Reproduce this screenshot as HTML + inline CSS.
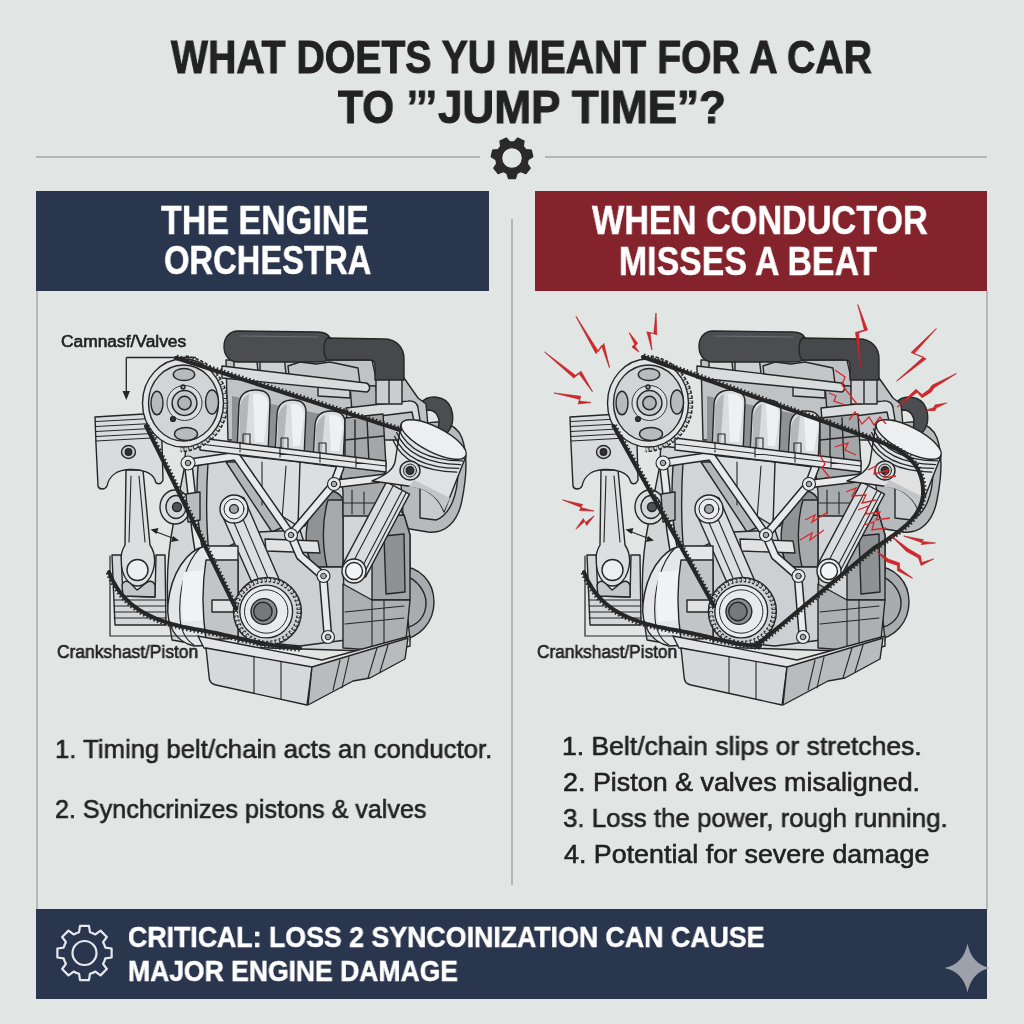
<!DOCTYPE html>
<html><head><meta charset="utf-8"><title>Jump Time</title>
<style>
html,body{margin:0;padding:0;}
body{width:1024px;height:1024px;overflow:hidden;position:relative;background:#e1e5e4;font-family:"Liberation Sans",sans-serif;}
.t{position:absolute;white-space:nowrap;line-height:0;transform-origin:0 0;will-change:transform;}
.b{font-weight:700;}
.m{font-weight:400;-webkit-text-stroke:0.6px currentColor;}
.b{-webkit-text-stroke:0.5px currentColor;}
.tt{-webkit-text-stroke:1px currentColor;}
.box{position:absolute;}
.hl{position:absolute;height:2px;background:#b3b7b6;}
.vl{position:absolute;width:2px;background:#b4b8b8;}
svg{position:absolute;left:0;top:0;overflow:visible;}
</style></head><body>
<div class="hl" style="left:36px;top:155.5px;width:444px"></div>
<div class="hl" style="left:545px;top:155.5px;width:442px"></div>
<div class="box" style="left:36px;top:191px;width:453px;height:100px;background:#2a354e"></div>
<div class="box" style="left:535px;top:191px;width:452px;height:100px;background:#84232b"></div>
<div class="vl" style="left:36px;top:291px;height:618px"></div>
<div class="vl" style="left:985.5px;top:291px;height:618px"></div>
<div class="vl" style="left:511px;top:219px;height:666px"></div>
<div class="box" style="left:36px;top:908.5px;width:951px;height:90px;background:#2a354e"></div>
<svg width="1024" height="1024" viewBox="0 0 1024 1024">
<g transform="translate(0,0)" stroke="#262626" stroke-width="1.4" stroke-linejoin="round" stroke-linecap="round">
<path fill="#b7babc" d="M418,428 C432,418 455,420 462,438 C468,455 466,480 462,500 C458,522 445,534 428,532 L404,528 L400,470 Z"/>
<path fill="#c9ccce" d="M436,432 C450,432 458,445 458,470 C458,495 450,515 436,520 L420,518 L420,440 Z"/>
<path fill="#a9acaf" d="M398,566 C420,566 434,582 434,602 C434,622 420,638 400,640 Z"/>
<path fill="none" d="M404,575 C418,580 426,592 426,603 C426,616 418,626 404,628"/>
<path fill="#4b4d50" d="M421,403 C428,394 446,395 451,408 C455,420 452,428 446,434 L437,430 C441,422 439,412 430,410 C426,410 423,411 421,412 Z"/>
<path fill="#c0c3c5" d="M226,360 L372,360 L376,378 L404,378 L418,398 L426,404 L428,426 L404,440 L228,440 Z"/>
<path fill="#d6d9da" d="M234,352 L256,352 L258,372 L234,372 Z"/>
<path fill="#cdd0d2" d="M260,356 L284,356 L286,374 L260,374 Z"/>
<path fill="#c4c7c9" d="M288,366 L300,362 L316,364 L330,362 L358,368 L360,384 L290,384 Z"/>
<path fill="#d0d3d5" d="M318,380 L350,382 L350,398 L318,396 Z"/>
<path fill="#b3b6b8" d="M350,385 L376,386 L378,410 L352,412 Z"/>
<path fill="#d9dcdd" d="M222,366 L366,383 C370,384 371,390 367,392 L222,378 Z"/>
<path fill="#d9dcdd" d="M346,408 L408,401 C414,400 418,404 418,408 L420,420 L414,421 L412,412 L347,420 Z"/>
<path fill="#cbced0" d="M376,378 L402,378 L402,404 L376,404 Z"/>
<path fill="none" d="M389,379 L389,403"/>
<path fill="#4b4d50" d="M238,331 L318,332 C325,332 329,335 331,339 L331,359 C327,362 321,362 315,362 L238,362 C229,362 224,355 224,346.5 C224,338 229,331 238,331 Z"/>
<path fill="#46484b" d="M327,338 L384,339 C396,339 404,347 404,359 L404,380 L375,380 L375,366 C375,362 373,360 370,360 L327,360 C323,355 323,343 327,338 Z"/>
<path fill="none" stroke="#6a6c70" stroke-width="1.2" d="M240,336 L318,337"/>
<path fill="#8d9194" stroke="none" d="M232,396 L350,420 L350,462 L232,450 Z"/>
<path fill="#dadddf" d="M237,452 L239,404 C240,394 246,390 255.5,390 C265,390 270,394 270,402 L268,454 Z"/>
<path fill="#b4b7b9" stroke="none" d="M240,406 C242,398 246,395 249,394 L245,452 L239,452 Z"/>
<path fill="#eef0f1" stroke="none" d="M253,394 C264,393 268,398 268,406 L264,442 L255,442 Z"/>
<path fill="none" stroke-width="1.1" d="M243,452 L243,434 L250,434 L250,452"/>
<path fill="#dadddf" d="M275,456 L277,414 C278,404 284,400 292.5,400 C301,400 306,404 306,412 L304,458 Z"/>
<path fill="#b4b7b9" stroke="none" d="M278,416 C280,408 284,405 287,404 L283,456 L277,456 Z"/>
<path fill="#eef0f1" stroke="none" d="M291,404 C300,403 304,408 304,416 L300,446 L293,446 Z"/>
<path fill="none" stroke-width="1.1" d="M281,456 L281,438 L288,438 L288,456"/>
<path fill="#dadddf" d="M313,461 L315,425 C316,415 322,411 331.0,411 C340,411 345,415 345,423 L343,463 Z"/>
<path fill="#b4b7b9" stroke="none" d="M316,427 C318,419 322,416 325,415 L321,461 L315,461 Z"/>
<path fill="#eef0f1" stroke="none" d="M329,415 C339,414 343,419 343,427 L339,451 L331,451 Z"/>
<path fill="none" stroke-width="1.1" d="M319,461 L319,443 L326,443 L326,461"/>
<path fill="#a3a7aa" d="M345,418 L383,414 L386,466 L345,461 Z"/>
<path fill="none" d="M355,420 L355,461 M367,418 L369,463 M345,440 L384,436"/>
<path fill="#d3d6d8" d="M186,446 L384,468 L392,500 L404,515 L410,535 L410,570 L406,600 L410,640 L398,652 L206,646 L172,640 C165,600 166,560 174,520 L184,470 Z"/>
<path fill="#d2d5d7" stroke="none" d="M196,458 L226,452 L262,505 L258,530 L246,556 L200,556 C196,520 195,490 196,458 Z"/>
<path fill="#b7babc" d="M198,466 L208,462 C206,495 206,525 209,554 L201,555 C197,525 196,495 198,466 Z"/>
<path fill="#b3b6b8" d="M226,462 L238,462 L283,527 L272,532 Z"/>
<path fill="#dbdee0" d="M236,455 L300,462 L302,472 L298,526 L272,510 Z"/>
<path fill="none" stroke-width="1.1" d="M262,462 L262,505 M286,466 L282,520"/>
<path fill="#dcdfe0" d="M300,462 L338,467 L334,484 C320,495 310,510 305,526 L298,526 Z"/>
<path fill="#8f9396" d="M322,494 C330,488 340,492 343,500 L343,567 L312,567 C303,545 303,515 322,494 Z"/>
<path fill="#a6a9ac" d="M328,500 L343,500 L343,567 L327,567 C322,545 322,520 328,500 Z"/>
<path fill="#a9acaf" d="M340,466 L384,470 L388,500 L372,516 L343,516 L343,492 Z"/>
<path fill="none" stroke-width="1.1" d="M350,478 L380,480 M352,490 L352,514 M364,492 L364,514 M343,503 L385,503"/>
<path fill="#a3a6a9" d="M372,516 L404,515 L410,535 L410,600 L372,600 Z"/>
<path fill="#8e9295" d="M384,536 L404,534 L405,592 L386,594 Z"/>
<path fill="#cdd0d2" d="M209,556 L258,532 L300,530 L312,567 L343,567 L346,640 L300,646 L240,640 L210,600 Z"/>
<path fill="#e0e2e3" d="M265,539 L318,541 L320,553 L266,551 Z"/>
<path fill="#adb0b3" d="M343,584 L372,600 L410,600 L406,640 L398,652 L343,648 Z"/>
<path fill="none" stroke-width="1.1" d="M345,612 L404,606 M345,624 L404,618 M372,600 L372,650 M384,600 L384,650"/>
<path fill="none" stroke="#262626" stroke-width="9" d="M188,463 L236,456 L291,535 L334,484 L384,478 M188,463 C193,500 194,530 200,556 L212,585 M291,535 L300,556 L323,576 L328,637 M334,484 L340,468"/>
<path fill="none" stroke="#e7e9ea" stroke-width="6" d="M188,463 L236,456 L291,535 L334,484 L384,478 M188,463 C193,500 194,530 200,556 L212,585 M291,535 L300,556 L323,576 L328,637 M334,484 L340,468"/>
<path fill="#e3e5e6" d="M200,438 L386,461 L386,472 L200,450 Z"/>
<path fill="none" stroke-width="1.1" d="M200,444 L386,466 M240,442 L240,452 M280,447 L280,457 M320,452 L320,462 M356,457 L356,467"/>
<circle cx="188" cy="463" r="7" fill="#e7e9ea" stroke-width="1.1"/>
<circle cx="188" cy="463" r="2.8" fill="#a6a9ac" stroke-width="1"/>
<circle cx="334" cy="484" r="6.5" fill="#e7e9ea" stroke-width="1.1"/>
<circle cx="334" cy="484" r="2.8" fill="#a6a9ac" stroke-width="1"/>
<circle cx="291" cy="535" r="6.5" fill="#e7e9ea" stroke-width="1.1"/>
<circle cx="291" cy="535" r="2.8" fill="#a6a9ac" stroke-width="1"/>
<circle cx="323.5" cy="576" r="6.5" fill="#e7e9ea" stroke-width="1.1"/>
<circle cx="323.5" cy="576" r="2.8" fill="#a6a9ac" stroke-width="1"/>
<circle cx="328" cy="637" r="6.5" fill="#e7e9ea" stroke-width="1.1"/>
<circle cx="328" cy="637" r="2.8" fill="#a6a9ac" stroke-width="1"/>
<path fill="#dadddf" d="M386.5,481.9 L409.5,494.1 L365.5,577.1 L342.5,564.9 Z"/>
<path fill="none" stroke-width="1.1" d="M393,486 L350,568 M402,491 L359,573 M406,493 L363,575"/>
<circle cx="354" cy="571" r="12" fill="#e9ebec"/>
<circle cx="354" cy="571" r="8.5" fill="#f3f4f5"/>
<path fill="#dcdfe0" d="M222,515 C220,500 232,492 244,498 L282,586 L258,596 Z"/>
<path fill="none" stroke-width="1.1" d="M232,518 L264,592 M240,512 L273,590"/>
<circle cx="234" cy="509" r="14" fill="#e4e6e7"/>
<circle cx="234" cy="509" r="10" fill="#e9ebec" stroke-width="1"/>
<circle cx="234" cy="509" r="4.4" fill="#a0a4a7"/>
<path fill="#e4e6e7" d="M238,546 L206,546 C186,550 171,574 168,604 C166,626 176,642 194,646 L238,644 Z"/>
<path fill="none" stroke-width="1.1" d="M200,548 C186,562 178,590 180,618 C181,632 186,640 194,645"/>
<path fill="#f1f2f3" stroke="none" d="M184,572 L204,570 L204,620 L183,622 C181,605 181,588 184,572 Z"/>
<path fill="#c2c5c7" d="M206,560 L238,560 L238,638 L206,640 C202,612 202,585 206,560 Z"/>
<path fill="#dfe1e2" d="M212,600 L238,600 L238,612 L212,612 Z"/>
<ellipse cx="175" cy="507" rx="15" ry="17" fill="#dcdfe0"/>
<ellipse cx="176" cy="507" rx="10" ry="11.5" fill="#d3d6d8"/>
<circle cx="177" cy="507" r="4.5" fill="#505356"/>
<path fill="#b9bcbe" d="M186,494 L200,492 L200,520 L188,522 Z"/>
<path fill="#e2e4e5" d="M198,636 L322,660 L410,636 L410,646 L322,670 L204,648 Z"/>
<path fill="#d6d9da" d="M206,648 L312,667 L307,705 L216,685 C211,684 209,680 209,676 Z"/>
<path fill="#b9bcbe" d="M312,667 L408,638 L405,659 L370,678 L353,681 L308,705 Z"/>
<path fill="none" stroke-width="1.1" d="M254,657 L254,693 M281,662 L281,699 M340,660 L333,690 M349,657 L342,688 M377,648 L368,678 M388,645 L380,672"/>
<path fill="#dcdfe0" d="M126,470 L143,470 L150,545 C160,560 152,586 137.5,586 C123,586 116,560 125,545 Z"/>
<path fill="none" stroke-width="1.1" d="M131,476 L129,542 M139,476 L145,542"/>
<circle cx="137.5" cy="570" r="10.5" fill="#eceeef"/>
<path fill="#d9dcdd" d="M95,417 L160,413 L162,444 L163,480 C161,485 156,485 155,480 C152,472 141,469 129,469.5 C117,470 109,476 107,486 C105,490 99,490 98,486 L96,444 Z"/>
<path fill="none" stroke-width="1.2" d="M96,421.5 L161,418.0"/>
<path fill="none" stroke-width="1.2" d="M96,426.5 L161,423.0"/>
<path fill="none" stroke-width="1.2" d="M96,431.5 L161,428.0"/>
<path fill="none" stroke-width="1.2" d="M96,436.5 L161,433.0"/>
<path fill="none" stroke-width="1.2" d="M96,441 L161,437.5"/>
<ellipse cx="128.5" cy="452" rx="7" ry="6.5" fill="#c9ccce"/>
<circle cx="128.5" cy="452" r="3.2" fill="#333"/>
<path fill="none" stroke-width="1.2" d="M110,556 L110,636 L198,636"/>
<path fill="#d4d7d9" d="M112,555 L121,555 L123,596 L155,597 L156,555 L165,555 L166,625 L115,625 Z"/>
<path fill="#c4c7c9" d="M122,585 C126,575 134,588 137,590 C142,588 150,575 155,585 L155,597 L123,596 Z"/>
<path fill="none" stroke-width="1.1" d="M114,600 L166,600"/>
<path fill="none" stroke-width="1.1" d="M114,606 L166,606"/>
<path fill="none" stroke-width="1.1" d="M114,612 L166,612"/>
<path fill="none" stroke-width="1.1" d="M114,618 L166,618"/>
<path fill="none" stroke-width="1.2" d="M154,531 L175,539"/>
<path fill="#262626" stroke="none" d="M150.5,529.5 L158.5,528 L156.5,534 Z M179,540.5 L171,542 L173,536 Z"/>
<path fill="#dfe1e2" d="M401,424 L466,456 L444,512 C438,496 424,486 408,486 L372,481 C386,475 393,470 395,462 Z"/>
<path fill="#c3c6c8" stroke="none" d="M444,511 C438,496 424,487 409,487 L414,480 L450,498 Z"/>
<ellipse cx="433.7" cy="439.5" rx="36" ry="12.5" transform="rotate(27 433.7 439.5)" fill="#eceeef"/>
<path fill="none" stroke-width="1.3" d="M398.5,428.9 Q411.5,459.9 462.5,460.9"/>
<path fill="none" stroke-width="1.3" d="M396.6,432.6 Q409.6,463.6 460.6,464.6"/>
<path fill="none" stroke-width="1.3" d="M394.7,436.4 Q407.7,467.4 458.7,468.4"/>
<path fill="none" stroke-width="1.3" d="M392.9,440.1 Q405.9,471.1 456.9,472.1"/>
<ellipse cx="410" cy="470.5" rx="10" ry="9.5" fill="#d8dbdc"/>
<circle cx="410" cy="470.5" r="6.5" fill="#c9ccce" stroke-width="1"/>
<circle cx="410" cy="470.5" r="3.8" fill="#333"/>
</g>
<g stroke="#262626" stroke-width="1.4">
<path d="M182.7,355.2 A49,49 0 0 1 178.5,452.3 L183,443 L183,363 Z" fill="#c9ccce" stroke="none"/>
<path d="M185.4,358.5 A45.5,45.5 0 0 1 180.7,449.1" fill="none" stroke="#2e2e2e" stroke-width="6.5" stroke-dasharray="3.2 1.6"/>
<path d="M185.4,358.5 A45.5,45.5 0 0 1 180.7,449.1" fill="none" stroke="#d8dbdc" stroke-width="3.2" stroke-dasharray="2.2 2.6"/>
<ellipse cx="183" cy="403" rx="40.5" ry="44" fill="#e1e3e4"/>
<ellipse cx="183.5" cy="403" rx="35" ry="38" fill="#d2d5d7"/>
<ellipse cx="184" cy="374.5" rx="10.7" ry="6" fill="#b8bbbd"/>
<ellipse cx="186" cy="434" rx="11.5" ry="6.5" fill="#b8bbbd"/>
<ellipse cx="157" cy="403" rx="6" ry="11.8" fill="#b8bbbd"/>
<ellipse cx="212" cy="402" rx="6.5" ry="12" fill="#b8bbbd"/>
<circle cx="184.5" cy="403" r="17.5" fill="#dadddf" stroke-width="0.9"/>
<circle cx="184.5" cy="403" r="12.4" fill="#c7cacc" stroke-width="1.5"/>
<circle cx="184.5" cy="403" r="6.7" fill="#b3b6b8" stroke-width="1.5"/>
<circle cx="183" cy="387" r="2" fill="#999"/>
<circle cx="173" cy="419" r="2.4" fill="#333"/>
</g>
<g stroke="#262626" stroke-width="1.4">
<circle cx="267.4" cy="611.5" r="34" fill="#cfd2d4"/>
<circle cx="267.4" cy="611.5" r="31.5" fill="none" stroke="#2e2e2e" stroke-width="4.6" stroke-dasharray="2.4 2"/>
<circle cx="267.4" cy="611.5" r="31.5" fill="none" stroke="#e0e2e3" stroke-width="2" stroke-dasharray="1.4 3"/>
<circle cx="266.2" cy="611.5" r="26.4" fill="#e8eaeb"/>
<circle cx="266.2" cy="611.5" r="21.7" fill="none" stroke-width="1"/>
<circle cx="263.9" cy="611.5" r="12.9" fill="#8a8d90"/>
<circle cx="262.9" cy="611.5" r="9.2" fill="#76797c"/>
</g><g transform="translate(0,0)"><path fill="none" stroke="#262626" stroke-width="4.0" stroke-linejoin="round" stroke-linecap="round" d="M176.0,358.0 L187.2,361.6 L198.4,365.2 L209.6,368.8 L220.8,372.4 L232.0,376.0 L243.2,379.6 L254.4,383.2 L265.6,386.8 L276.8,390.4 L288.0,394.0 L299.2,397.6 L310.4,401.2 L321.6,404.8 L332.8,408.4 L344.0,412.0 L355.2,415.6 L366.4,419.2 L377.6,422.8 L388.8,426.4 L400.0,430.0"/>
<path fill="none" stroke="#2a2a2a" stroke-width="2.2" stroke-dasharray="1.6 2.2" d="M176.8,355.6 L188.0,359.2 L199.2,362.8 L210.4,366.4 L221.6,370.0 L232.8,373.6 L244.0,377.2 L255.2,380.8 L266.4,384.4 L277.6,388.0 L288.8,391.6 L300.0,395.2 L311.2,398.8 L322.4,402.4 L333.6,406.0 L344.8,409.6 L356.0,413.2 L367.2,416.8 L378.4,420.4 L389.6,424.0 L400.8,427.6"/>
<path fill="none" stroke="#262626" stroke-width="4.0" stroke-linejoin="round" stroke-linecap="round" d="M146.0,426.0 L150.5,435.1 L155.0,444.3 L159.5,453.4 L164.0,462.6 L168.5,471.8 L173.0,480.9 L177.5,490.1 L182.0,499.2 L186.5,508.4 L191.0,517.5 L195.5,526.6 L200.0,535.8 L204.5,545.0 L209.0,554.1 L213.5,563.2 L218.0,572.4 L222.5,581.5 L227.0,590.7 L231.5,599.9 L236.0,609.0"/>
<path fill="none" stroke="#2a2a2a" stroke-width="2.2" stroke-dasharray="1.6 2.2" d="M148.2,424.9 L152.7,434.0 L157.2,443.2 L161.7,452.3 L166.2,461.5 L170.7,470.6 L175.2,479.8 L179.7,488.9 L184.2,498.1 L188.7,507.2 L193.2,516.4 L197.7,525.5 L202.2,534.7 L206.7,543.8 L211.2,553.0 L215.7,562.1 L220.2,571.3 L224.7,580.4 L229.2,589.6 L233.7,598.7 L238.2,607.9"/>
<path fill="none" stroke="#262626" stroke-width="4.0" stroke-linejoin="round" stroke-linecap="round" d="M109.0,572.0 L110.7,576.2 L112.6,580.1 L114.6,583.9 L116.8,587.5 L119.1,591.0 L121.7,594.3 L124.4,597.4 L127.3,600.4 L130.3,603.2 L133.6,605.8 L137.0,608.4 L140.6,610.8 L144.4,613.0 L148.5,615.1 L152.7,617.1 L157.1,619.0 L161.7,620.7 L166.5,622.3 L171.6,623.9 L176.8,625.3 L182.3,626.6 L188.0,627.8 L193.9,629.0 L200.0,630.0 L204.3,630.8 L208.6,631.6 L212.8,632.4 L216.9,633.3 L221.0,634.2 L225.0,635.1 L229.1,636.0 L233.0,636.9 L237.0,637.8 L241.0,638.7 L244.9,639.6 L248.9,640.5 L252.9,641.4 L256.9,642.2 L260.9,643.0 L265.0,643.8 L269.1,644.5 L273.3,645.2 L277.5,645.8 L281.8,646.4 L286.2,646.9 L290.7,647.3 L295.3,647.7 L300.0,648.0"/>
<path fill="none" stroke="#2a2a2a" stroke-width="2.2" stroke-dasharray="1.6 2.2" d="M106.7,572.9 L108.4,577.2 L110.3,581.2 L112.4,585.2 L114.7,588.9 L117.1,592.5 L119.7,595.9 L122.5,599.1 L125.5,602.2 L128.7,605.1 L132.0,607.8 L135.6,610.4 L139.3,612.9 L143.2,615.2 L147.3,617.3 L151.6,619.4 L156.1,621.3 L160.8,623.1 L165.8,624.7 L170.9,626.3 L176.2,627.7 L181.7,629.0 L187.5,630.3 L193.4,631.4 L199.6,632.5 L203.9,633.2 L208.1,634.0 L212.3,634.9 L216.4,635.7 L220.5,636.6 L224.5,637.5 L228.5,638.4 L232.5,639.3 L236.4,640.2 L240.4,641.2 L244.4,642.1 L248.3,642.9 L252.3,643.8 L256.4,644.7 L260.4,645.5 L264.5,646.2 L268.7,647.0 L272.9,647.7 L277.2,648.3 L281.5,648.9 L286.0,649.4 L290.5,649.8 L295.1,650.2 L299.8,650.5"/></g><g transform="translate(0,0)" fill="none" stroke="#262626" stroke-width="1.3">
<path d="M126.3,357.5 L196,357.5 M126.3,357.5 L126.3,393"/>
<path fill="#262626" stroke="none" d="M122.5,391 L130,391 L126.3,400 Z"/>
</g>
<g transform="translate(475,0)" stroke="#262626" stroke-width="1.4" stroke-linejoin="round" stroke-linecap="round">
<path fill="#b7babc" d="M418,428 C432,418 455,420 462,438 C468,455 466,480 462,500 C458,522 445,534 428,532 L404,528 L400,470 Z"/>
<path fill="#c9ccce" d="M436,432 C450,432 458,445 458,470 C458,495 450,515 436,520 L420,518 L420,440 Z"/>
<path fill="#a9acaf" d="M398,566 C420,566 434,582 434,602 C434,622 420,638 400,640 Z"/>
<path fill="none" d="M404,575 C418,580 426,592 426,603 C426,616 418,626 404,628"/>
<path fill="#4b4d50" d="M421,403 C428,394 446,395 451,408 C455,420 452,428 446,434 L437,430 C441,422 439,412 430,410 C426,410 423,411 421,412 Z"/>
<path fill="#c0c3c5" d="M226,360 L372,360 L376,378 L404,378 L418,398 L426,404 L428,426 L404,440 L228,440 Z"/>
<path fill="#d6d9da" d="M234,352 L256,352 L258,372 L234,372 Z"/>
<path fill="#cdd0d2" d="M260,356 L284,356 L286,374 L260,374 Z"/>
<path fill="#c4c7c9" d="M288,366 L300,362 L316,364 L330,362 L358,368 L360,384 L290,384 Z"/>
<path fill="#d0d3d5" d="M318,380 L350,382 L350,398 L318,396 Z"/>
<path fill="#b3b6b8" d="M350,385 L376,386 L378,410 L352,412 Z"/>
<path fill="#d9dcdd" d="M222,366 L366,383 C370,384 371,390 367,392 L222,378 Z"/>
<path fill="#d9dcdd" d="M346,408 L408,401 C414,400 418,404 418,408 L420,420 L414,421 L412,412 L347,420 Z"/>
<path fill="#cbced0" d="M376,378 L402,378 L402,404 L376,404 Z"/>
<path fill="none" d="M389,379 L389,403"/>
<path fill="#4b4d50" d="M238,331 L318,332 C325,332 329,335 331,339 L331,359 C327,362 321,362 315,362 L238,362 C229,362 224,355 224,346.5 C224,338 229,331 238,331 Z"/>
<path fill="#46484b" d="M327,338 L384,339 C396,339 404,347 404,359 L404,380 L375,380 L375,366 C375,362 373,360 370,360 L327,360 C323,355 323,343 327,338 Z"/>
<path fill="none" stroke="#6a6c70" stroke-width="1.2" d="M240,336 L318,337"/>
<path fill="#8d9194" stroke="none" d="M232,396 L350,420 L350,462 L232,450 Z"/>
<path fill="#dadddf" d="M237,452 L239,404 C240,394 246,390 255.5,390 C265,390 270,394 270,402 L268,454 Z"/>
<path fill="#b4b7b9" stroke="none" d="M240,406 C242,398 246,395 249,394 L245,452 L239,452 Z"/>
<path fill="#eef0f1" stroke="none" d="M253,394 C264,393 268,398 268,406 L264,442 L255,442 Z"/>
<path fill="none" stroke-width="1.1" d="M243,452 L243,434 L250,434 L250,452"/>
<path fill="#dadddf" d="M275,456 L277,414 C278,404 284,400 292.5,400 C301,400 306,404 306,412 L304,458 Z"/>
<path fill="#b4b7b9" stroke="none" d="M278,416 C280,408 284,405 287,404 L283,456 L277,456 Z"/>
<path fill="#eef0f1" stroke="none" d="M291,404 C300,403 304,408 304,416 L300,446 L293,446 Z"/>
<path fill="none" stroke-width="1.1" d="M281,456 L281,438 L288,438 L288,456"/>
<path fill="#dadddf" d="M313,461 L315,425 C316,415 322,411 331.0,411 C340,411 345,415 345,423 L343,463 Z"/>
<path fill="#b4b7b9" stroke="none" d="M316,427 C318,419 322,416 325,415 L321,461 L315,461 Z"/>
<path fill="#eef0f1" stroke="none" d="M329,415 C339,414 343,419 343,427 L339,451 L331,451 Z"/>
<path fill="none" stroke-width="1.1" d="M319,461 L319,443 L326,443 L326,461"/>
<path fill="#a3a7aa" d="M345,418 L383,414 L386,466 L345,461 Z"/>
<path fill="none" d="M355,420 L355,461 M367,418 L369,463 M345,440 L384,436"/>
<path fill="#d3d6d8" d="M186,446 L384,468 L392,500 L404,515 L410,535 L410,570 L406,600 L410,640 L398,652 L206,646 L172,640 C165,600 166,560 174,520 L184,470 Z"/>
<path fill="#d2d5d7" stroke="none" d="M196,458 L226,452 L262,505 L258,530 L246,556 L200,556 C196,520 195,490 196,458 Z"/>
<path fill="#b7babc" d="M198,466 L208,462 C206,495 206,525 209,554 L201,555 C197,525 196,495 198,466 Z"/>
<path fill="#b3b6b8" d="M226,462 L238,462 L283,527 L272,532 Z"/>
<path fill="#dbdee0" d="M236,455 L300,462 L302,472 L298,526 L272,510 Z"/>
<path fill="none" stroke-width="1.1" d="M262,462 L262,505 M286,466 L282,520"/>
<path fill="#dcdfe0" d="M300,462 L338,467 L334,484 C320,495 310,510 305,526 L298,526 Z"/>
<path fill="#8f9396" d="M322,494 C330,488 340,492 343,500 L343,567 L312,567 C303,545 303,515 322,494 Z"/>
<path fill="#a6a9ac" d="M328,500 L343,500 L343,567 L327,567 C322,545 322,520 328,500 Z"/>
<path fill="#a9acaf" d="M340,466 L384,470 L388,500 L372,516 L343,516 L343,492 Z"/>
<path fill="none" stroke-width="1.1" d="M350,478 L380,480 M352,490 L352,514 M364,492 L364,514 M343,503 L385,503"/>
<path fill="#a3a6a9" d="M372,516 L404,515 L410,535 L410,600 L372,600 Z"/>
<path fill="#8e9295" d="M384,536 L404,534 L405,592 L386,594 Z"/>
<path fill="#cdd0d2" d="M209,556 L258,532 L300,530 L312,567 L343,567 L346,640 L300,646 L240,640 L210,600 Z"/>
<path fill="#e0e2e3" d="M265,539 L318,541 L320,553 L266,551 Z"/>
<path fill="#adb0b3" d="M343,584 L372,600 L410,600 L406,640 L398,652 L343,648 Z"/>
<path fill="none" stroke-width="1.1" d="M345,612 L404,606 M345,624 L404,618 M372,600 L372,650 M384,600 L384,650"/>
<path fill="none" stroke="#262626" stroke-width="9" d="M188,463 L236,456 L291,535 L334,484 L384,478 M188,463 C193,500 194,530 200,556 L212,585 M291,535 L300,556 L323,576 L328,637 M334,484 L340,468"/>
<path fill="none" stroke="#e7e9ea" stroke-width="6" d="M188,463 L236,456 L291,535 L334,484 L384,478 M188,463 C193,500 194,530 200,556 L212,585 M291,535 L300,556 L323,576 L328,637 M334,484 L340,468"/>
<path fill="#e3e5e6" d="M200,438 L386,461 L386,472 L200,450 Z"/>
<path fill="none" stroke-width="1.1" d="M200,444 L386,466 M240,442 L240,452 M280,447 L280,457 M320,452 L320,462 M356,457 L356,467"/>
<circle cx="188" cy="463" r="7" fill="#e7e9ea" stroke-width="1.1"/>
<circle cx="188" cy="463" r="2.8" fill="#a6a9ac" stroke-width="1"/>
<circle cx="334" cy="484" r="6.5" fill="#e7e9ea" stroke-width="1.1"/>
<circle cx="334" cy="484" r="2.8" fill="#a6a9ac" stroke-width="1"/>
<circle cx="291" cy="535" r="6.5" fill="#e7e9ea" stroke-width="1.1"/>
<circle cx="291" cy="535" r="2.8" fill="#a6a9ac" stroke-width="1"/>
<circle cx="323.5" cy="576" r="6.5" fill="#e7e9ea" stroke-width="1.1"/>
<circle cx="323.5" cy="576" r="2.8" fill="#a6a9ac" stroke-width="1"/>
<circle cx="328" cy="637" r="6.5" fill="#e7e9ea" stroke-width="1.1"/>
<circle cx="328" cy="637" r="2.8" fill="#a6a9ac" stroke-width="1"/>
<path fill="#dadddf" d="M386.5,481.9 L409.5,494.1 L365.5,577.1 L342.5,564.9 Z"/>
<path fill="none" stroke-width="1.1" d="M393,486 L350,568 M402,491 L359,573 M406,493 L363,575"/>
<circle cx="354" cy="571" r="12" fill="#e9ebec"/>
<circle cx="354" cy="571" r="8.5" fill="#f3f4f5"/>
<path fill="#dcdfe0" d="M222,515 C220,500 232,492 244,498 L282,586 L258,596 Z"/>
<path fill="none" stroke-width="1.1" d="M232,518 L264,592 M240,512 L273,590"/>
<circle cx="234" cy="509" r="14" fill="#e4e6e7"/>
<circle cx="234" cy="509" r="10" fill="#e9ebec" stroke-width="1"/>
<circle cx="234" cy="509" r="4.4" fill="#a0a4a7"/>
<path fill="#e4e6e7" d="M238,546 L206,546 C186,550 171,574 168,604 C166,626 176,642 194,646 L238,644 Z"/>
<path fill="none" stroke-width="1.1" d="M200,548 C186,562 178,590 180,618 C181,632 186,640 194,645"/>
<path fill="#f1f2f3" stroke="none" d="M184,572 L204,570 L204,620 L183,622 C181,605 181,588 184,572 Z"/>
<path fill="#c2c5c7" d="M206,560 L238,560 L238,638 L206,640 C202,612 202,585 206,560 Z"/>
<path fill="#dfe1e2" d="M212,600 L238,600 L238,612 L212,612 Z"/>
<ellipse cx="175" cy="507" rx="15" ry="17" fill="#dcdfe0"/>
<ellipse cx="176" cy="507" rx="10" ry="11.5" fill="#d3d6d8"/>
<circle cx="177" cy="507" r="4.5" fill="#505356"/>
<path fill="#b9bcbe" d="M186,494 L200,492 L200,520 L188,522 Z"/>
<path fill="#e2e4e5" d="M198,636 L322,660 L410,636 L410,646 L322,670 L204,648 Z"/>
<path fill="#d6d9da" d="M206,648 L312,667 L307,705 L216,685 C211,684 209,680 209,676 Z"/>
<path fill="#b9bcbe" d="M312,667 L408,638 L405,659 L370,678 L353,681 L308,705 Z"/>
<path fill="none" stroke-width="1.1" d="M254,657 L254,693 M281,662 L281,699 M340,660 L333,690 M349,657 L342,688 M377,648 L368,678 M388,645 L380,672"/>
<path fill="#dcdfe0" d="M126,470 L143,470 L150,545 C160,560 152,586 137.5,586 C123,586 116,560 125,545 Z"/>
<path fill="none" stroke-width="1.1" d="M131,476 L129,542 M139,476 L145,542"/>
<circle cx="137.5" cy="570" r="10.5" fill="#eceeef"/>
<path fill="#d9dcdd" d="M95,417 L160,413 L162,444 L163,480 C161,485 156,485 155,480 C152,472 141,469 129,469.5 C117,470 109,476 107,486 C105,490 99,490 98,486 L96,444 Z"/>
<path fill="none" stroke-width="1.2" d="M96,421.5 L161,418.0"/>
<path fill="none" stroke-width="1.2" d="M96,426.5 L161,423.0"/>
<path fill="none" stroke-width="1.2" d="M96,431.5 L161,428.0"/>
<path fill="none" stroke-width="1.2" d="M96,436.5 L161,433.0"/>
<path fill="none" stroke-width="1.2" d="M96,441 L161,437.5"/>
<ellipse cx="128.5" cy="452" rx="7" ry="6.5" fill="#c9ccce"/>
<circle cx="128.5" cy="452" r="3.2" fill="#333"/>
<path fill="none" stroke-width="1.2" d="M110,556 L110,636 L198,636"/>
<path fill="#d4d7d9" d="M112,555 L121,555 L123,596 L155,597 L156,555 L165,555 L166,625 L115,625 Z"/>
<path fill="#c4c7c9" d="M122,585 C126,575 134,588 137,590 C142,588 150,575 155,585 L155,597 L123,596 Z"/>
<path fill="none" stroke-width="1.1" d="M114,600 L166,600"/>
<path fill="none" stroke-width="1.1" d="M114,606 L166,606"/>
<path fill="none" stroke-width="1.1" d="M114,612 L166,612"/>
<path fill="none" stroke-width="1.1" d="M114,618 L166,618"/>
<path fill="none" stroke-width="1.2" d="M154,531 L175,539"/>
<path fill="#262626" stroke="none" d="M150.5,529.5 L158.5,528 L156.5,534 Z M179,540.5 L171,542 L173,536 Z"/>
<path fill="#dfe1e2" d="M401,424 L466,456 L444,512 C438,496 424,486 408,486 L372,481 C386,475 393,470 395,462 Z"/>
<path fill="#c3c6c8" stroke="none" d="M444,511 C438,496 424,487 409,487 L414,480 L450,498 Z"/>
<ellipse cx="433.7" cy="439.5" rx="36" ry="12.5" transform="rotate(27 433.7 439.5)" fill="#eceeef"/>
<path fill="none" stroke-width="1.3" d="M398.5,428.9 Q411.5,459.9 462.5,460.9"/>
<path fill="none" stroke-width="1.3" d="M396.6,432.6 Q409.6,463.6 460.6,464.6"/>
<path fill="none" stroke-width="1.3" d="M394.7,436.4 Q407.7,467.4 458.7,468.4"/>
<path fill="none" stroke-width="1.3" d="M392.9,440.1 Q405.9,471.1 456.9,472.1"/>
<ellipse cx="410" cy="470.5" rx="10" ry="9.5" fill="#d8dbdc"/>
<circle cx="410" cy="470.5" r="6.5" fill="#c9ccce" stroke-width="1"/>
<circle cx="410" cy="470.5" r="3.8" fill="#333"/>
</g>
<g stroke="#262626" stroke-width="1.4">
<path d="M647.7,355.2 A49,49 0 0 1 643.5,452.3 L648,443 L648,363 Z" fill="#c9ccce" stroke="none"/>
<path d="M650.4,358.5 A45.5,45.5 0 0 1 645.7,449.1" fill="none" stroke="#2e2e2e" stroke-width="6.5" stroke-dasharray="3.2 1.6"/>
<path d="M650.4,358.5 A45.5,45.5 0 0 1 645.7,449.1" fill="none" stroke="#d8dbdc" stroke-width="3.2" stroke-dasharray="2.2 2.6"/>
<ellipse cx="648" cy="403" rx="40.5" ry="44" fill="#e1e3e4"/>
<ellipse cx="648.5" cy="403" rx="35" ry="38" fill="#d2d5d7"/>
<ellipse cx="649" cy="374.5" rx="10.7" ry="6" fill="#b8bbbd"/>
<ellipse cx="651" cy="434" rx="11.5" ry="6.5" fill="#b8bbbd"/>
<ellipse cx="622" cy="403" rx="6" ry="11.8" fill="#b8bbbd"/>
<ellipse cx="677" cy="402" rx="6.5" ry="12" fill="#b8bbbd"/>
<circle cx="649.5" cy="403" r="17.5" fill="#dadddf" stroke-width="0.9"/>
<circle cx="649.5" cy="403" r="12.4" fill="#c7cacc" stroke-width="1.5"/>
<circle cx="649.5" cy="403" r="6.7" fill="#b3b6b8" stroke-width="1.5"/>
<circle cx="648" cy="387" r="2" fill="#999"/>
<circle cx="638" cy="419" r="2.4" fill="#333"/>
</g>
<g stroke="#262626" stroke-width="1.4">
<circle cx="742.4" cy="611.5" r="34" fill="#cfd2d4"/>
<circle cx="742.4" cy="611.5" r="31.5" fill="none" stroke="#2e2e2e" stroke-width="4.6" stroke-dasharray="2.4 2"/>
<circle cx="742.4" cy="611.5" r="31.5" fill="none" stroke="#e0e2e3" stroke-width="2" stroke-dasharray="1.4 3"/>
<circle cx="741.1999999999999" cy="611.5" r="26.4" fill="#e8eaeb"/>
<circle cx="741.1999999999999" cy="611.5" r="21.7" fill="none" stroke-width="1"/>
<circle cx="738.9" cy="611.5" r="12.9" fill="#8a8d90"/>
<circle cx="737.9" cy="611.5" r="9.2" fill="#76797c"/>
</g><g transform="translate(475,0)"><path fill="none" stroke="#262626" stroke-width="4.0" stroke-linejoin="round" stroke-linecap="round" d="M168.0,357.0 L179.6,361.1 L191.2,365.3 L202.8,369.4 L214.4,373.6 L226.0,377.8 L237.6,381.9 L249.2,386.1 L260.8,390.2 L272.4,394.4 L284.0,398.5 L295.6,402.6 L307.2,406.8 L318.8,410.9 L330.4,415.1 L342.0,419.2 L353.6,423.4 L365.2,427.6 L376.8,431.7 L388.4,435.9 L400.0,440.0 L403.5,441.3 L406.8,442.5 L410.1,443.9 L413.2,445.2 L416.2,446.6 L419.2,448.1 L422.0,449.6 L424.7,451.2 L427.2,452.8 L429.7,454.6 L432.0,456.4 L434.1,458.2 L436.1,460.2 L438.0,462.3 L439.8,464.5 L441.3,466.8 L442.8,469.2 L444.0,471.8 L445.1,474.5 L446.0,477.3 L446.8,480.2 L447.4,483.3 L447.8,486.6 L448.0,490.0 L448.0,493.1 L447.8,496.0 L447.4,498.9 L446.7,501.7 L445.9,504.4 L444.8,507.1 L443.6,509.6 L442.2,512.1 L440.6,514.6 L438.8,517.0 L436.9,519.3 L434.8,521.6 L432.5,523.9 L430.1,526.1 L427.5,528.3 L424.8,530.5 L422.0,532.7 L419.0,534.9 L416.0,537.0 L412.8,539.2 L409.5,541.4 L406.1,543.6 L402.6,545.8 L399.0,548.0 L390.6,554.9 L382.3,561.9 L373.9,568.8 L365.6,575.7 L357.2,582.6 L348.9,589.6 L340.5,596.5 L332.1,603.4 L323.8,610.4 L315.4,617.3 L307.1,624.2 L298.7,631.1 L290.4,638.1 L282.0,645.0"/>
<path fill="none" stroke="#2a2a2a" stroke-width="2.2" stroke-dasharray="1.6 2.2" d="M168.8,354.6 L180.4,358.8 L192.0,362.9 L203.6,367.1 L215.2,371.2 L226.8,375.4 L238.4,379.5 L250.0,383.7 L261.6,387.8 L273.2,392.0 L284.8,396.1 L296.4,400.3 L308.0,404.4 L319.6,408.6 L331.2,412.7 L342.8,416.9 L354.4,421.0 L366.0,425.2 L377.6,429.3 L389.2,433.5 L400.8,437.6 L404.3,438.9 L407.7,440.2 L411.0,441.6 L414.2,442.9 L417.3,444.4 L420.3,445.9 L423.2,447.4 L426.0,449.1 L428.6,450.8 L431.2,452.5 L433.6,454.4 L435.8,456.4 L438.0,458.5 L439.9,460.7 L441.8,463.0 L443.4,465.5 L445.0,468.0 L446.3,470.8 L447.5,473.6 L448.4,476.6 L449.2,479.7 L449.9,482.9 L450.3,486.4 L450.5,489.9 L450.5,493.2 L450.3,496.3 L449.8,499.4 L449.1,502.4 L448.2,505.3 L447.1,508.1 L445.8,510.8 L444.3,513.5 L442.6,516.0 L440.8,518.5 L438.7,521.0 L436.6,523.4 L434.2,525.7 L431.7,528.0 L429.1,530.2 L426.4,532.5 L423.5,534.7 L420.5,536.9 L417.4,539.1 L414.2,541.3 L410.8,543.5 L407.4,545.7 L403.9,547.9 L400.5,550.0 L392.2,556.9 L383.9,563.8 L375.5,570.7 L367.2,577.6 L358.8,584.6 L350.5,591.5 L342.1,598.4 L333.7,605.4 L325.4,612.3 L317.0,619.2 L308.7,626.1 L300.3,633.1 L292.0,640.0 L283.6,646.9"/>
<path fill="none" stroke="#262626" stroke-width="4.0" stroke-linejoin="round" stroke-linecap="round" d="M138.5,426.0 L143.5,435.0 L148.6,444.0 L153.6,453.0 L158.6,462.0 L163.6,471.0 L168.7,480.0 L173.7,489.0 L178.7,498.0 L183.7,507.0 L188.8,516.0 L193.8,525.0 L198.8,534.0 L203.8,543.0 L208.8,552.0 L213.9,561.0 L218.9,570.0 L223.9,579.0 L228.9,588.0 L234.0,597.0 L239.0,606.0"/>
<path fill="none" stroke="#2a2a2a" stroke-width="2.2" stroke-dasharray="1.6 2.2" d="M140.7,424.8 L145.7,433.8 L150.7,442.8 L155.8,451.8 L160.8,460.8 L165.8,469.8 L170.8,478.8 L175.9,487.8 L180.9,496.8 L185.9,505.8 L190.9,514.8 L196.0,523.8 L201.0,532.8 L206.0,541.8 L211.0,550.8 L216.1,559.8 L221.1,568.8 L226.1,577.8 L231.1,586.8 L236.2,595.8 L241.2,604.8"/>
<path fill="none" stroke="#262626" stroke-width="4.0" stroke-linejoin="round" stroke-linecap="round" d="M109.0,572.0 L110.7,576.2 L112.6,580.1 L114.6,583.9 L116.8,587.5 L119.1,591.0 L121.7,594.3 L124.4,597.4 L127.3,600.4 L130.3,603.2 L133.6,605.8 L137.0,608.4 L140.6,610.8 L144.4,613.0 L148.5,615.1 L152.7,617.1 L157.1,619.0 L161.7,620.7 L166.5,622.3 L171.6,623.9 L176.8,625.3 L182.3,626.6 L188.0,627.8 L193.9,629.0 L200.0,630.0 L204.3,630.8 L208.6,631.6 L212.8,632.4 L216.9,633.3 L220.9,634.1 L224.8,635.0 L228.7,635.9 L232.5,636.8 L236.2,637.7 L239.9,638.6 L243.5,639.4 L247.0,640.2 L250.5,641.0 L253.9,641.8 L257.2,642.5 L260.5,643.2 L263.8,643.8 L266.9,644.3 L270.1,644.8 L273.1,645.2 L276.2,645.6 L279.2,645.8 L282.1,645.9 L285.0,646.0"/>
<path fill="none" stroke="#2a2a2a" stroke-width="2.2" stroke-dasharray="1.6 2.2" d="M106.7,572.9 L108.4,577.2 L110.3,581.2 L112.4,585.2 L114.7,588.9 L117.1,592.5 L119.7,595.9 L122.5,599.1 L125.5,602.2 L128.7,605.1 L132.0,607.8 L135.6,610.4 L139.3,612.9 L143.2,615.2 L147.3,617.3 L151.6,619.4 L156.1,621.3 L160.8,623.1 L165.8,624.7 L170.9,626.3 L176.2,627.7 L181.7,629.0 L187.5,630.3 L193.4,631.4 L199.6,632.5 L203.9,633.2 L208.1,634.0 L212.3,634.9 L216.3,635.7 L220.3,636.6 L224.3,637.5 L228.1,638.4 L231.9,639.2 L235.6,640.1 L239.3,641.0 L242.9,641.9 L246.4,642.7 L249.9,643.5 L253.3,644.2 L256.7,645.0 L260.0,645.6 L263.3,646.3 L266.5,646.8 L269.7,647.3 L272.9,647.7 L275.9,648.0 L279.0,648.3 L282.0,648.4 L285.0,648.5"/></g><path fill="#d8262c" stroke="#b01e22" stroke-width="0.6" d="M575.9,316.5 L596.0,353.7 L601.5,345.4 L609.4,367.7 L609.6,367.7 L603.9,343.4 L598.4,351.5 L576.1,316.3Z"/>
<path fill="#d8262c" stroke="#b01e22" stroke-width="0.6" d="M544.5,352.1 L573.8,378.0 L579.1,373.7 L592.3,391.7 L592.5,391.5 L581.1,371.3 L575.4,375.2 L544.7,351.9Z"/>
<path fill="#d8262c" stroke="#b01e22" stroke-width="0.6" d="M554.1,393.1 L579.5,399.3 L578.2,403.9 L591.0,402.6 L591.0,402.4 L579.4,401.1 L580.7,396.3 L554.1,392.9Z"/>
<path fill="#d8262c" stroke="#b01e22" stroke-width="0.6" d="M629.2,332.9 L634.7,344.3 L631.9,347.0 L638.8,352.1 L639.0,351.9 L634.9,346.0 L637.7,343.3 L629.4,332.7Z"/>
<path fill="#d8262c" stroke="#b01e22" stroke-width="0.6" d="M655.9,313.0 L653.8,333.6 L646.9,331.8 L651.8,349.9 L652.0,349.9 L650.1,332.4 L656.8,334.8 L656.1,313.0Z"/>
<path fill="#d8262c" stroke="#b01e22" stroke-width="0.6" d="M857.7,304.6 L864.4,329.9 L855.5,332.4 L860.4,367.5 L860.6,367.5 L858.7,332.8 L867.6,329.9 L857.9,304.6Z"/>
<path fill="#d8262c" stroke="#b01e22" stroke-width="0.6" d="M936.3,328.4 L911.0,352.5 L923.4,357.1 L896.6,381.0 L896.8,381.2 L926.2,358.7 L914.0,353.7 L936.5,328.6Z"/>
<path fill="#d8262c" stroke="#b01e22" stroke-width="0.6" d="M956.2,373.5 L932.1,385.3 L929.1,389.5 L922.0,394.6 L916.0,389.2 L897.3,407.0 L897.5,407.2 L917.2,392.2 L922.0,397.8 L931.3,391.9 L933.9,387.9 L956.2,373.7Z"/>
<path fill="#d8262c" stroke="#b01e22" stroke-width="0.6" d="M946.6,402.9 L935.0,405.0 L933.7,407.7 L924.8,410.4 L924.8,410.6 L934.9,410.7 L936.4,407.8 L946.6,403.1Z"/>
<path fill="#d8262c" stroke="#b01e22" stroke-width="0.6" d="M562.7,500.1 L581.3,507.4 L579.4,510.5 L594.0,511.1 L594.0,510.9 L580.6,507.5 L582.7,504.6 L562.7,499.9Z"/>
<path fill="#d8262c" stroke="#b01e22" stroke-width="0.6" d="M576.1,529.1 L584.7,521.4 L586.6,525.5 L594.1,516.1 L593.9,515.9 L585.4,522.5 L583.3,518.6 L575.9,528.9Z"/>
<path fill="#d8262c" stroke="#b01e22" stroke-width="0.6" d="M903.7,536.1 L922.4,542.8 L921.1,544.6 L935.4,543.1 L935.4,542.9 L921.5,541.4 L923.6,539.8 L903.7,535.9Z"/>
<path fill="#d8262c" stroke="#b01e22" stroke-width="0.6" d="M891.3,536.1 L906.3,551.3 L918.5,558.1 L921.1,565.4 L933.6,559.1 L933.6,558.9 L921.5,562.6 L920.7,555.9 L908.3,548.7 L891.5,535.9Z"/>
<path fill="#d8262c" stroke="#b01e22" stroke-width="0.6" d="M877.3,552.0 L887.2,562.1 L897.5,565.4 L897.4,570.6 L912.4,578.3 L912.6,578.1 L899.6,568.4 L899.5,563.0 L888.8,559.3 L877.5,551.8Z"/><g fill="none" stroke="#d8262c" stroke-width="1.3" stroke-linejoin="miter"><path d="M835.0,370.0 L845.0,377.0 L842.0,385.0 L857.0,404.0"/><path d="M849.0,420.0 L855.0,412.0 L862.0,424.0 L869.0,417.0 L874.0,425.0 L880.0,417.0 L886.0,424.0"/><path d="M829.0,393.0 L836.0,396.0 L834.0,401.0 L845.0,405.0"/><path d="M835.0,447.0 L841.0,445.0 L848.0,443.0 L845.0,450.0 L856.0,455.0"/><path d="M819.0,454.0 L825.0,464.0 L822.0,468.0 L830.0,478.0"/><path d="M846.0,492.0 L856.0,488.0 L852.0,496.0 L866.0,495.0 L862.0,503.0 L876.0,500.0"/><path d="M858.0,510.0 L868.0,506.0 L866.0,514.0 L880.0,512.0 L876.0,520.0 L890.0,518.0"/><path d="M864.0,525.0 L874.0,522.0 L872.0,530.0 L886.0,528.0"/><path d="M805.0,520.0 L815.0,515.0 L812.0,522.0 L828.0,512.0"/><path d="M800.0,540.0 L812.0,533.0 L810.0,540.0 L824.0,530.0"/><path d="M868.0,470.0 L876.0,466.0 L874.0,474.0 L888.0,470.0 L884.0,478.0 L896.0,476.0"/></g>
<!-- top gear -->
<g transform="translate(512,158)">
<path id="g7" fill="#2a2a2a" stroke="#2a2a2a" stroke-width="1.2" stroke-linejoin="round" fill-rule="evenodd" d="M5.16,15.36 L3.48,20.61 L-3.48,20.61 L-5.16,15.36 A16.2,16.2 0 0 1 -8.79,13.61 L-13.94,15.57 L-18.28,10.13 L-15.22,5.54 A16.2,16.2 0 0 1 -16.12,1.61 L-20.87,-1.19 L-19.32,-7.98 L-13.82,-8.45 A16.2,16.2 0 0 1 -11.31,-11.60 L-12.08,-17.06 L-5.80,-20.08 L-2.02,-16.07 A16.2,16.2 0 0 1 2.02,-16.07 L5.80,-20.08 L12.08,-17.06 L11.31,-11.60 A16.2,16.2 0 0 1 13.82,-8.45 L19.32,-7.98 L20.87,-1.19 L16.12,1.61 A16.2,16.2 0 0 1 15.22,5.54 L18.28,10.13 L13.94,15.57 L8.79,13.61 A16.2,16.2 0 0 1 5.16,15.36Z M10.4,0 A10.4,10.4 0 1 0 -10.4,0 A10.4,10.4 0 1 0 10.4,0Z"/>
</g>
<!-- bottom gear -->
<g transform="translate(84.5,953)" fill="none" stroke="#e6e8ee" stroke-width="2.2" stroke-linejoin="round">
<path d="M-5.44,-20.80 L-4.48,-27.13 L4.48,-27.13 L5.44,-20.80 A21.5,21.5 0 0 1 10.86,-18.55 L16.02,-22.35 L22.35,-16.02 L18.55,-10.86 A21.5,21.5 0 0 1 20.80,-5.44 L27.13,-4.48 L27.13,4.48 L20.80,5.44 A21.5,21.5 0 0 1 18.55,10.86 L22.35,16.02 L16.02,22.35 L10.86,18.55 A21.5,21.5 0 0 1 5.44,20.80 L4.48,27.13 L-4.48,27.13 L-5.44,20.80 A21.5,21.5 0 0 1 -10.86,18.55 L-16.02,22.35 L-22.35,16.02 L-18.55,10.86 A21.5,21.5 0 0 1 -20.80,5.44 L-27.13,4.48 L-27.13,-4.48 L-20.80,-5.44 A21.5,21.5 0 0 1 -18.55,-10.86 L-22.35,-16.02 L-16.02,-22.35 L-10.86,-18.55 A21.5,21.5 0 0 1 -5.44,-20.80Z"/>
<circle r="12"/>
</g>
<!-- sparkle -->
<path fill="#9ca1ab" d="M967.5,943.5 Q971.5,964 990,968 Q971.5,972 967.5,992.5 Q963.5,972 944.5,968 Q963.5,964 967.5,943.5Z"/>
</svg>
<div class="t b tt" style="left:170.70px;top:56.88px;font-size:46.51px;transform:scaleX(0.8426);color:#222">WHAT DOETS YU MEANT FOR A CAR</div>
<div class="t b tt" style="left:338.20px;top:107.28px;font-size:46.51px;transform:scaleX(0.8807);color:#222">TO</div>
<div class="t b tt" style="left:407.19px;top:107.28px;font-size:46.51px;transform:scaleX(0.8371);color:#222">’’’</div>
<div class="t b tt" style="left:437.50px;top:107.28px;font-size:46.51px;transform:scaleX(0.9473);color:#222">JUMP TIME”?</div>
<div class="t b" style="left:161.00px;top:219.85px;font-size:39.97px;transform:scaleX(0.8513);color:#fff">THE ENGINE</div>
<div class="t b" style="left:163.68px;top:260.35px;font-size:39.97px;transform:scaleX(0.8190);color:#fff">ORCHESTRA</div>
<div class="t b" style="left:592.30px;top:219.85px;font-size:39.97px;transform:scaleX(0.8557);color:#fff">WHEN CONDUCTOR</div>
<div class="t b" style="left:619.41px;top:260.65px;font-size:39.97px;transform:scaleX(0.8461);color:#fff">MISSES A BEAT</div>
<div class="t m" style="left:54.67px;top:748.88px;font-size:26.60px;transform:scaleX(0.9666);color:#222">1. Timing belt/chain acts an conductor.</div>
<div class="t m" style="left:54.96px;top:809.38px;font-size:26.60px;transform:scaleX(0.9450);color:#222">2. Synchcrinizes pistons &amp; valves</div>
<div class="t m" style="left:562.41px;top:746.08px;font-size:26.60px;transform:scaleX(0.9973);color:#222">1. Belt/chain slips or stretches.</div>
<div class="t m" style="left:562.74px;top:782.03px;font-size:26.60px;transform:scaleX(1.0108);color:#222">2. Piston &amp; valves misaligned.</div>
<div class="t m" style="left:563.03px;top:817.98px;font-size:26.60px;transform:scaleX(0.9749);color:#222">3. Loss the power, rough running.</div>
<div class="t m" style="left:564.00px;top:854.38px;font-size:26.60px;transform:scaleX(1.0089);color:#222">4. Potential for severe damage</div>
<div class="t b" style="left:127.88px;top:936.53px;font-size:29.07px;transform:scaleX(0.9196);color:#fff">CRITICAL: LOSS 2 SYNCOINIZATION CAN CAUSE</div>
<div class="t b" style="left:127.89px;top:970.68px;font-size:29.07px;transform:scaleX(0.9123);color:#fff">MAJOR ENGINE DAMAGE</div>
<div class="t m" style="left:60.60px;top:341.21px;font-size:16.42px;transform:scaleX(1.0591);color:#222">Camnasf/Valves</div>
<div class="t m" style="left:56.80px;top:652.26px;font-size:18.31px;transform:scaleX(0.9511);color:#222">Crankshast/Piston</div>
<div class="t m" style="left:536.70px;top:652.26px;font-size:18.31px;transform:scaleX(0.9443);color:#222">Crankshast/Piston</div>
</body></html>
